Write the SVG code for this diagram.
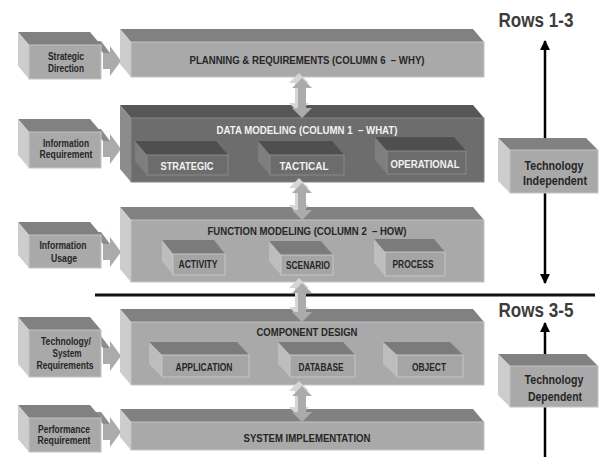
<svg xmlns="http://www.w3.org/2000/svg" width="600" height="457" viewBox="0 0 600 457">
<style>
text{font-family:"Liberation Sans",Arial,sans-serif;font-weight:bold;text-anchor:middle;fill:#262626}
.t{font-size:11px}
.s{font-size:10px}
.w{fill:#f2f2f2}
.rows{font-size:20px;fill:#3c3c3c}
.lt{fill:#818181}.lf{fill:#a9a9a9;stroke:#c4c4c4;stroke-width:1}.ls{fill:#cdcdcd}
.dt{fill:#575757}.df{fill:#6d6d6d;stroke:#858585;stroke-width:1}.ds{fill:#8c8c8c}
.st{fill:#4f4f4f}.sf{fill:#6c6c6c;stroke:#8a8a8a;stroke-width:1}.ss{fill:#7e7e7e}
.ft{fill:#7b7b7b}.ff{fill:#a5a5a5;stroke:#c6c6c6;stroke-width:1}.fs{fill:#bdbdbd}
.ab{fill:#d6d6d6}.af{fill:#ababab}.ad{fill:#8c8c8c}
.ln{stroke:#000;stroke-width:2.5;fill:none}
</style>
<defs>
<marker id="ah" viewBox="0 0 10 10" refX="9" refY="5" markerWidth="4" markerHeight="4" orient="auto-start-reverse">
<path d="M0,0 L10,5 L0,10 z" fill="#000"/>
</marker>
</defs>

<g id="connectors">
<line x1="95" y1="295" x2="595" y2="295" stroke="#111" stroke-width="3"/>
<line class="ln" x1="545" y1="41" x2="545" y2="283" marker-start="url(#ah)" marker-end="url(#ah)"/>
<line class="ln" x1="545" y1="323" x2="545" y2="466" marker-start="url(#ah)" marker-end="url(#ah)"/>
<g id="arr-in1"><polygon class="ad" points="103,53 110,53 101,41 94,41"/><polygon class="ab" points="110,46 121,61 112,49 101,34"/><polygon class="af" points="103,53 110,53 110,46 121,61 110,76 110,69 103,69"/></g>
<g id="arr-in2"><polygon class="ad" points="103,141 110,141 101,129 94,129"/><polygon class="ab" points="110,134 121,149 112,137 101,122"/><polygon class="af" points="103,141 110,141 110,134 121,149 110,164 110,157 103,157"/></g>
<g id="arr-in3"><polygon class="ad" points="103,244 110,244 101,232 94,232"/><polygon class="ab" points="110,237 121,252 112,240 101,225"/><polygon class="af" points="103,244 110,244 110,237 121,252 110,267 110,260 103,260"/></g>
<g id="arr-in4"><polygon class="ad" points="103,348 110,348 101,336 94,336"/><polygon class="ab" points="110,341 121,356 112,344 101,329"/><polygon class="af" points="103,348 110,348 110,341 121,356 110,371 110,364 103,364"/></g>
<g id="arr-in5"><polygon class="ad" points="103,424 110,424 101,412 94,412"/><polygon class="ab" points="110,417 121,432 112,420 101,405"/><polygon class="af" points="103,424 110,424 110,417 121,432 110,447 110,440 103,440"/></g>
</g>

<g id="in-strategic">
<polygon class="lt" points="18,32 90,32 101,45 29,45"/><polygon class="ls" points="18,32 29,45 29,79 18,66"/><rect class="lf" x="29" y="45" width="72" height="34"/>
<text class="s" x="66" y="60" textLength="36" lengthAdjust="spacingAndGlyphs">Strategic</text>
<text class="s" x="66" y="72" textLength="36" lengthAdjust="spacingAndGlyphs">Direction</text>
</g>
<g id="in-inforeq">
<polygon class="lt" points="18,119 90,119 101,132 29,132"/><polygon class="ls" points="18,119 29,132 29,168 18,155"/><rect class="lf" x="29" y="132" width="72" height="36"/>
<text class="s" x="66" y="147" textLength="46" lengthAdjust="spacingAndGlyphs">Information</text>
<text class="s" x="66" y="158" textLength="53" lengthAdjust="spacingAndGlyphs">Requirement</text>
</g>
<g id="in-infousage">
<polygon class="lt" points="18,222 90,222 101,235 29,235"/><polygon class="ls" points="18,222 29,235 29,268 18,255"/><rect class="lf" x="29" y="235" width="72" height="33"/>
<text class="s" x="63" y="249" textLength="47" lengthAdjust="spacingAndGlyphs">Information</text>
<text class="s" x="64" y="262" textLength="26" lengthAdjust="spacingAndGlyphs">Usage</text>
</g>
<g id="in-techsys">
<polygon class="lt" points="18,317 90,317 101,330 29,330"/><polygon class="ls" points="18,317 29,330 29,377 18,364"/><rect class="lf" x="29" y="330" width="72" height="47"/>
<text class="s" x="66" y="345" textLength="50" lengthAdjust="spacingAndGlyphs">Technology/</text>
<text class="s" x="67" y="357" textLength="29" lengthAdjust="spacingAndGlyphs">System</text>
<text class="s" x="65" y="369" textLength="57" lengthAdjust="spacingAndGlyphs">Requirements</text>
</g>
<g id="in-perf">
<polygon class="lt" points="18,405 90,405 101,418 29,418"/><polygon class="ls" points="18,405 29,418 29,452 18,439"/><rect class="lf" x="29" y="418" width="72" height="34"/>
<text class="s" x="64" y="433" textLength="52" lengthAdjust="spacingAndGlyphs">Performance</text>
<text class="s" x="64" y="444" textLength="53" lengthAdjust="spacingAndGlyphs">Requirement</text>
</g>

<g id="planning">
<polygon class="lt" points="120,29 473,29 484,42 131,42"/><polygon class="ls" points="120,29 131,42 131,77 120,64"/><rect class="lf" x="131" y="42" width="353" height="35"/>
<text class="t" x="307" y="64" textLength="235" lengthAdjust="spacingAndGlyphs">PLANNING &amp; REQUIREMENTS (COLUMN 6&#160; – WHY)</text>
</g>
<g id="data-modeling">
<polygon class="dt" points="120,105 473,105 484,118 131,118"/><polygon class="ds" points="120,105 131,118 131,182 120,169"/><rect class="df" x="131" y="118" width="353" height="64"/>
<text class="t w" x="307" y="134" textLength="181" lengthAdjust="spacingAndGlyphs">DATA MODELING (COLUMN 1&#160; – WHAT)</text>
<g id="dm-strategic">
<polygon class="st" points="135,141 216,141 228,155 147,155"/><polygon class="ss" points="135,141 147,155 147,175 135,161"/><rect class="sf" x="147" y="155" width="81" height="20"/>
<text class="t w" x="187" y="170" textLength="53" lengthAdjust="spacingAndGlyphs">STRATEGIC</text>
</g>
<g id="dm-tactical">
<polygon class="st" points="258,141 332,141 344,155 270,155"/><polygon class="ss" points="258,141 270,155 270,175 258,161"/><rect class="sf" x="270" y="155" width="74" height="20"/>
<text class="t w" x="304" y="170" textLength="49" lengthAdjust="spacingAndGlyphs">TACTICAL</text>
</g>
<g id="dm-operational">
<polygon class="st" points="375,137 454,137 466,151 387,151"/><polygon class="ss" points="375,137 387,151 387,174 375,160"/><rect class="sf" x="387" y="151" width="79" height="23"/>
<text class="t w" x="425" y="168" textLength="69" lengthAdjust="spacingAndGlyphs">OPERATIONAL</text>
</g>
</g>
<g id="function-modeling">
<polygon class="lt" points="120,207 473,207 484,220 131,220"/><polygon class="ls" points="120,207 131,220 131,282 120,269"/><rect class="lf" x="131" y="220" width="353" height="62"/>
<text class="t" x="307" y="235" textLength="199" lengthAdjust="spacingAndGlyphs">FUNCTION MODELING (COLUMN 2&#160; – HOW)</text>
<g id="fm-activity">
<polygon class="ft" points="162,240 214,240 225,254 173,254"/><polygon class="fs" points="162,240 173,254 173,275 162,261"/><rect class="ff" x="173" y="254" width="52" height="21"/>
<text class="s" x="198" y="268" textLength="39" lengthAdjust="spacingAndGlyphs">ACTIVITY</text>
</g>
<g id="fm-scenario">
<polygon class="ft" points="269,241 321,241 333,255 281,255"/><polygon class="fs" points="269,241 281,255 281,275 269,261"/><rect class="ff" x="281" y="255" width="52" height="20"/>
<text class="s" x="308" y="269" textLength="44" lengthAdjust="spacingAndGlyphs">SCENARIO</text>
</g>
<g id="fm-process">
<polygon class="ft" points="374,239 434,239 445,252 385,252"/><polygon class="fs" points="374,239 385,252 385,276 374,263"/><rect class="ff" x="385" y="252" width="60" height="24"/>
<text class="s" x="413" y="268" textLength="41" lengthAdjust="spacingAndGlyphs">PROCESS</text>
</g>
</g>
<g id="component-design">
<polygon class="lt" points="120,309 473,309 484,322 131,322"/><polygon class="ls" points="120,309 131,322 131,385 120,372"/><rect class="lf" x="131" y="322" width="353" height="63"/>
<text class="t" x="307" y="336" textLength="101" lengthAdjust="spacingAndGlyphs">COMPONENT DESIGN</text>
<g id="cd-application">
<polygon class="ft" points="149,342 237,342 249,355 162,355"/><polygon class="fs" points="149,342 162,355 162,377 149,364"/><rect class="ff" x="162" y="355" width="87" height="22"/>
<text class="s" x="204" y="371" textLength="57" lengthAdjust="spacingAndGlyphs">APPLICATION</text>
</g>
<g id="cd-database">
<polygon class="ft" points="278,342 343,342 355,355 290,355"/><polygon class="fs" points="278,342 290,355 290,377 278,364"/><rect class="ff" x="290" y="355" width="65" height="22"/>
<text class="s" x="321" y="371" textLength="45" lengthAdjust="spacingAndGlyphs">DATABASE</text>
</g>
<g id="cd-object">
<polygon class="ft" points="383,342 450,342 463,355 397,355"/><polygon class="fs" points="383,342 397,355 397,377 383,364"/><rect class="ff" x="397" y="355" width="66" height="22"/>
<text class="s" x="429" y="371" textLength="34" lengthAdjust="spacingAndGlyphs">OBJECT</text>
</g>
</g>
<g id="system-implementation">
<polygon class="lt" points="120,409 473,409 484,422 131,422"/><polygon class="ls" points="120,409 131,422 131,450 120,437"/><rect class="lf" x="131" y="422" width="353" height="28"/>
<text class="t" x="307" y="442" textLength="127" lengthAdjust="spacingAndGlyphs">SYSTEM IMPLEMENTATION</text>
</g>

<g id="layer-arrows">
<g><polygon class="ab" points="299,73 309,83 303,83 303,103 309,103 299,113 289,103 295,103 295,83 289,83"/><polygon class="af" points="302,78 312,88 306,88 306,108 312,108 302,118 292,108 298,108 298,88 292,88"/></g>
<g><polygon class="ab" points="299,178 309,188 303,188 303,205 309,205 299,215 289,205 295,205 295,188 289,188"/><polygon class="af" points="302,183 312,193 306,193 306,210 312,210 302,220 292,210 298,210 298,193 292,193"/></g>
<g><polygon class="ab" points="299,278 309,288 303,288 303,307 309,307 299,317 289,307 295,307 295,288 289,288"/><polygon class="af" points="302,283 312,293 306,293 306,312 312,312 302,322 292,312 298,312 298,293 292,293"/></g>
<g><polygon class="ab" points="299,381 309,391 303,391 303,407 309,407 299,417 289,407 295,407 295,391 289,391"/><polygon class="af" points="302,386 312,396 306,396 306,412 312,412 302,422 292,412 298,412 298,396 292,396"/></g>
</g>

<text class="rows" x="536" y="27" textLength="75" lengthAdjust="spacingAndGlyphs">Rows 1-3</text>
<text class="rows" x="536" y="317" textLength="75" lengthAdjust="spacingAndGlyphs">Rows 3-5</text>
<g id="tech-independent">
<polygon class="lt" points="498,138 586,138 598,150 510,150"/><polygon class="ls" points="498,138 510,150 510,193 498,181"/><rect class="lf" x="510" y="150" width="88" height="43"/>
<text x="554" y="170" font-size="12" textLength="59" lengthAdjust="spacingAndGlyphs">Technology</text>
<text x="555" y="185" font-size="12" textLength="64" lengthAdjust="spacingAndGlyphs">Independent</text>
</g>
<g id="tech-dependent">
<polygon class="lt" points="498,354 586,354 598,366 510,366"/><polygon class="ls" points="498,354 510,366 510,407 498,395"/><rect class="lf" x="510" y="366" width="88" height="41"/>
<text x="554" y="384" font-size="12" textLength="59" lengthAdjust="spacingAndGlyphs">Technology</text>
<text x="555" y="401" font-size="12" textLength="54" lengthAdjust="spacingAndGlyphs">Dependent</text>
</g>
</svg>
